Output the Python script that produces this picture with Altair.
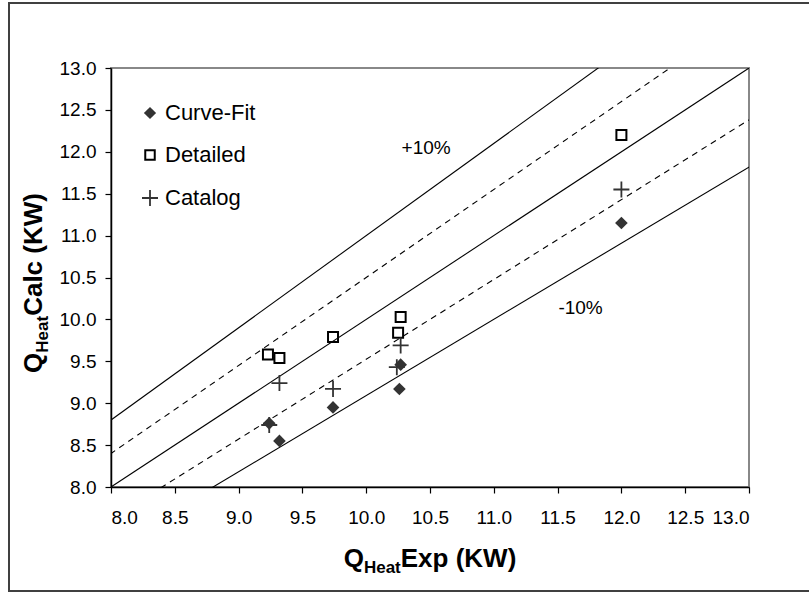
import altair as alt
import pandas as pd

# ---- data ----
curve_x = [9.24, 9.32, 9.74, 10.26, 10.27, 12.0]
curve_y = [8.76, 8.55, 8.95, 9.17, 9.46, 11.15]
detail_x = [9.23, 9.32, 9.74, 10.25, 10.27, 12.0]
detail_y = [9.58, 9.54, 9.79, 9.84, 10.03, 12.2]
catalog_x = [9.24, 9.32, 9.74, 10.24, 10.27, 12.0]
catalog_y = [8.74, 9.24, 9.17, 9.43, 9.69, 11.55]

series_names = ["Curve-Fit", "Detailed", "Catalog"]

ref_factors = [1.1, 1.05, 1.0, 1 / 1.05, 1 / 1.1]
ref_dashed = [False, True, False, True, False]
ref_x_ends = [7.0, 14.0]

ann_text = ["+10%", "-10%"]
ann_x = [10.47, 11.68]
ann_y = [12.05, 10.14]

tick_values = [8.0, 8.5, 9.0, 9.5, 10.0, 10.5, 11.0, 11.5, 12.0, 12.5, 13.0]

FONT = "Liberation Sans"
INK = "#333333"

# ---- tables ----
pts_curve = pd.DataFrame({"x": curve_x, "y": curve_y})
pts_detail = pd.DataFrame({"x": detail_x, "y": detail_y})
pts_catalog = pd.DataFrame({"x": catalog_x, "y": catalog_y})

rows = []
for i, (f, d) in enumerate(zip(ref_factors, ref_dashed)):
    for xe in ref_x_ends:
        rows.append({"line": i, "x": xe, "y": xe * f, "dashed": d})
ref_df = pd.DataFrame(rows)
ann_df = pd.DataFrame({"t": ann_text, "x": ann_x, "y": ann_y})
one = pd.DataFrame({"a": [0]})

W, H = 638, 419
LEFT, TOP = 111, 68

xs = alt.Scale(domain=[8, 13], nice=False, zero=False)
ys = alt.Scale(domain=[8, 13], nice=False, zero=False)

axis_common = dict(
    values=tick_values, format=".1f", grid=False,
    labelFont=FONT, labelFontSize=19, labelColor="black",
    domainColor="black", domainWidth=1.5, tickColor="black", tickSize=6,
    tickWidth=1.2, title=None,
)

X = alt.X("x:Q", scale=xs, axis=alt.Axis(labelPadding=15, **axis_common))
Y = alt.Y("y:Q", scale=ys, axis=alt.Axis(labelPadding=9, **axis_common))

solid = alt.Chart(ref_df[~ref_df.dashed]).mark_line(
    color="black", strokeWidth=1.1, clip=True
).encode(x=X, y=Y, detail="line:N")

dashed = alt.Chart(ref_df[ref_df.dashed]).mark_line(
    color="black", strokeWidth=1.1, strokeDash=[6, 5], clip=True
).encode(x=X, y=Y, detail="line:N")

diamonds = alt.Chart(pts_curve).mark_point(
    shape="diamond", filled=True, fill=INK, color=INK, size=160, opacity=1
).encode(x=X, y=Y)

squares = alt.Chart(pts_detail).mark_point(
    shape="square", filled=False, color="black", strokeWidth=2, size=100, opacity=1
).encode(x=X, y=Y)

CROSS = "M-1,0L1,0M0,-1L0,1"
crosses = alt.Chart(pts_catalog).mark_point(
    shape=CROSS, filled=False, color=INK, strokeWidth=1.8, size=256, opacity=1
).encode(x=X, y=Y)

ann = alt.Chart(ann_df).mark_text(
    font=FONT, fontSize=19, color="black", align="center", baseline="middle"
).encode(x=X, y=Y, text="t:N")

# ---- legend (inside plot, upper left) ----
leg_y = [45, 87, 130]
leg_mark_x = 39
leg_text_x = 54
leg_layers = [
    alt.Chart(one).mark_point(
        shape="diamond", filled=True, fill=INK, color=INK, size=150, opacity=1
    ).encode(x=alt.value(leg_mark_x), y=alt.value(leg_y[0])),
    alt.Chart(one).mark_point(
        shape="square", filled=False, color="black", strokeWidth=2, size=90, opacity=1
    ).encode(x=alt.value(leg_mark_x), y=alt.value(leg_y[1])),
    alt.Chart(one).mark_point(
        shape=CROSS, filled=False, color=INK, strokeWidth=1.8, size=256, opacity=1
    ).encode(x=alt.value(leg_mark_x), y=alt.value(leg_y[2])),
]
for name, yy in zip(series_names, leg_y):
    leg_layers.append(alt.Chart(one).mark_text(
        text=name, font=FONT, fontSize=22, color="black", align="left", baseline="middle"
    ).encode(x=alt.value(leg_text_x), y=alt.value(yy)))

# ---- axis titles with subscripts ----
BIG, SUB = 26, 17
wQ = 0.778 * BIG
wHeat = 2.167 * SUB
wExp = 4.444 * BIG
wCalc = 4.722 * BIG

def piece(text, size, x, y, angle=None):
    kw = dict(text=text, font=FONT, fontSize=size, fontWeight="bold",
              align="left", baseline="alphabetic", color="black")
    if angle is not None:
        kw["angle"] = angle
    return alt.Chart(one).mark_text(**kw).encode(x=alt.value(x), y=alt.value(y))

# x title
tot = wQ + wHeat + wExp
x0 = W / 2 - tot / 2
ty = H + 80
title_layers = [
    piece("Q", BIG, x0, ty),
    piece("Heat", SUB, x0 + wQ, ty + 6),
    piece("Exp (KW)", BIG, x0 + wQ + wHeat, ty),
]
# y title (rotated, reading bottom to top)
tot_y = wQ + wHeat + wCalc
y0 = 215 + tot_y / 2
tx = -69
title_layers += [
    piece("Q", BIG, tx, y0, 270),
    piece("Heat", SUB, tx + 6, y0 - wQ, 270),
    piece("Calc (KW)", BIG, tx, y0 - wQ - wHeat, 270),
]

# outer frame
frame = alt.Chart(one).mark_rect(
    fillOpacity=0, stroke="#404040", strokeWidth=2
).encode(
    x=alt.value(9 - LEFT), x2=alt.value(812 - LEFT),
    y=alt.value(3 - TOP), y2=alt.value(591 - TOP),
)

chart = alt.layer(
    solid, dashed, diamonds, squares, crosses, ann, *leg_layers, *title_layers, frame
).properties(
    width=W, height=H,
    padding={"left": LEFT, "top": TOP, "right": 809 - LEFT - W, "bottom": 594 - TOP - H},
    autosize=alt.AutoSizeParams(type="none"),
    background="white",
).configure_view(
    stroke="#888888", strokeWidth=2
)

chart.save("out.html", embed_options={"renderer": "svg", "actions": False})
